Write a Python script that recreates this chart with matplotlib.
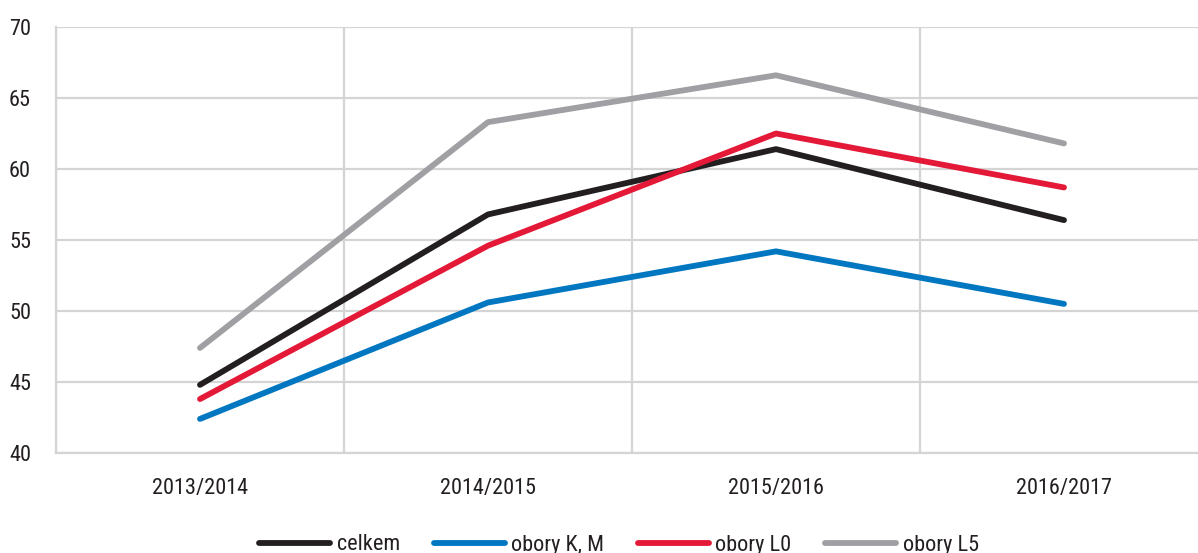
import matplotlib.pyplot as plt
import matplotlib.font_manager as fm

# data
years = ['2013/2014', '2014/2015', '2015/2016', '2016/2017']
celkem = [44.8, 56.8, 61.4, 56.4]
obory_km = [42.4, 50.6, 54.2, 50.5]
obory_l0 = [43.8, 54.6, 62.5, 58.7]
obory_l5 = [47.4, 63.3, 66.6, 61.8]

# look for a condensed face, the reference uses a narrow sans
stretch = 'normal'
font = 'DejaVu Sans'
cands = []
for f in fm.fontManager.ttflist:
    st = str(f.stretch).lower()
    nm = f.name.lower()
    if f.weight in (400, 'normal', 'regular') and f.style == 'normal' and \
            ('condensed' in st or 'narrow' in nm or 'condensed' in nm or st.isdigit() and int(st) < 500):
        cands.append(f)
pref = ['liberation sans narrow', 'roboto condensed', 'open sans condensed', 'noto sans', 'dejavu sans']
cands.sort(key=lambda f: next((i for i, p in enumerate(pref) if p in f.name.lower()), 99))
if cands:
    font = cands[0].name
    stretch = cands[0].stretch
plt.rcParams['font.family'] = [font, 'DejaVu Sans']
plt.rcParams['font.stretch'] = stretch

fig = plt.figure(figsize=(11.98, 5.53), dpi=100)
ax = fig.add_axes([56/1198, 100/553, 1152/1198, 426/553])

x = list(range(len(years)))
series = [
    (celkem, '#231f20', 'celkem'),
    (obory_km, '#0077c0', 'obory K, M'),
    (obory_l0, '#e31937', 'obory L0'),
    (obory_l5, '#a0a0a4', 'obory L5'),
]
for vals, col, lab in series:
    ax.plot(x, vals, color=col, lw=4.2, solid_capstyle='round', label=lab, zorder=3)

ax.set_xlim(-0.5, 3.5)
ax.set_ylim(40, 70)
ax.set_yticks(range(40, 71, 5))
ax.set_xticks(x)
ax.set_xticklabels(years)
ax.set_xticks([-0.5, 0.5, 1.5, 2.5, 3.5], minor=True)

grid = '#d4d4d4'
ax.grid(axis='y', which='major', color=grid, lw=1.6)
ax.grid(axis='x', which='minor', color=grid, lw=1.6)
ax.grid(axis='x', which='major', visible=False)
for side in ['top', 'right']:
    ax.spines[side].set_visible(False)
for side in ['left', 'bottom']:
    ax.spines[side].set_color(grid)
    ax.spines[side].set_linewidth(1.6)
ax.tick_params(which='both', length=0, labelsize=16, colors='#231f20')
ax.tick_params(axis='y', pad=18)
ax.tick_params(axis='x', pad=18)

leg = fig.legend(loc='center', bbox_to_anchor=(619/1198, 1 - 545/553), ncol=4,
                 frameon=False, fontsize=16, handlelength=3.2, handletextpad=0.3,
                 columnspacing=1.5)
for t in leg.get_texts():
    t.set_color('#231f20')

fig.savefig('out.png', dpi=100)
